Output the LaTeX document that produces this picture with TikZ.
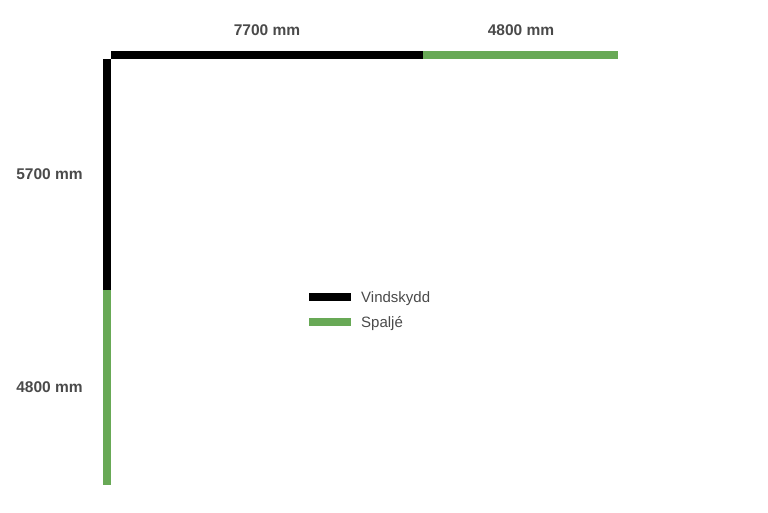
\documentclass[tikz,border=0pt]{standalone}
\usepackage{fontspec}
\setmainfont{Liberation Sans}
\definecolor{spgreen}{HTML}{68A956}
\definecolor{lblgray}{HTML}{4A4A4A}
\begin{document}
\begin{tikzpicture}[x=1pt,y=-1pt,
  bar/.style={line width=8pt,line cap=butt},
  dim/.style={font=\fontsize{15.5}{18}\selectfont\bfseries,text=lblgray,inner sep=0pt},
  leg/.style={font=\fontsize{15}{18}\selectfont,text=lblgray,inner sep=0pt,anchor=base west}]
\useasboundingbox (0,0) rectangle (768,512);
\coordinate (tA) at (111,54.8);
\coordinate (tB) at (423,54.8);
\coordinate (tC) at (618,54.8);
\coordinate (vA) at (107,59);
\coordinate (vB) at (107,290);
\coordinate (vC) at (107,485);
\draw[bar,black] (tA) -- (tB);
\draw[bar,spgreen] (tB) -- (tC);
\draw[bar,black] (vA) -- (vB);
\draw[bar,spgreen] (vB) -- (vC);
\node[dim] (l1) at (267,30.5) {7700 mm};
\node[dim] (l2) at (521,30.5) {4800 mm};
\node[dim] (l3) at (49.5,174.5) {5700 mm};
\node[dim] (l4) at (49.5,387.5) {4800 mm};
\coordinate (k1a) at (309,297);
\coordinate (k1b) at (351,297);
\coordinate (k2a) at (309,322);
\coordinate (k2b) at (351,322);
\draw[line width=7.5pt,black] (k1a) -- (k1b);
\draw[line width=7.5pt,spgreen] (k2a) -- (k2b);
\node[leg] (t1) at (361,302.5) {Vindskydd};
\node[leg] (t2) at (361,327.5) {Spaljé};
\end{tikzpicture}
\end{document}
